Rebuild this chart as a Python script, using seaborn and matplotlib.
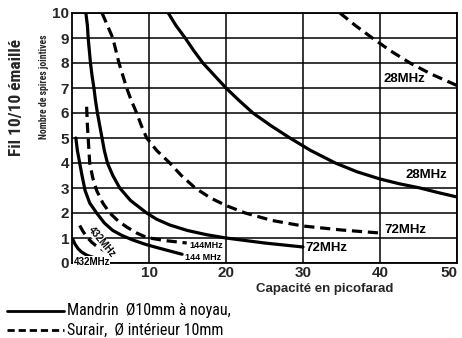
import matplotlib
matplotlib.use("Agg")
import matplotlib.pyplot as plt
import seaborn as sns
import pandas as pd
from matplotlib.lines import Line2D

# Coil charts: number of close-wound turns vs. tuning capacitance
# Solid = former with core, dashed = air-wound
sol28_c = [12.5, 13.5, 14.7, 15.8, 17.0, 18.5, 20.0, 21.7, 23.5, 25.8, 28.3,
           31.0, 34.2, 37.0, 40.0, 42.5, 45.2, 47.5, 50.0]
sol28_n = [10, 9.5, 9, 8.5, 8, 7.5, 7, 6.5, 6, 5.5, 5,
           4.5, 4, 3.65, 3.36, 3.17, 3.0, 2.82, 2.64]

sol72_c = [1.8, 2.0, 2.1, 2.25, 2.4, 2.6, 2.85, 3.05, 3.3, 3.6, 3.9, 4.2, 4.6,
           5.3, 6.2, 7.6, 9.7, 11.0, 12.7, 15.0, 17.5, 20.0, 25.0, 30.0]
sol72_n = [10, 9.5, 9, 8.5, 8, 7.5, 7, 6.5, 6, 5.5, 5, 4.5, 4,
           3.5, 3, 2.5, 2, 1.75, 1.52, 1.3, 1.13, 1.0, 0.8, 0.64]

sol144_c = [0.5, 0.7, 1.0, 1.3, 1.7, 2.3, 3.2, 4.2, 5.3, 6.5, 7.9, 9.5,
            11.0, 12.7, 14.3]
sol144_n = [5.0, 4.5, 4.0, 3.5, 2.9, 2.4, 2.0, 1.6, 1.3, 1.1, 0.92, 0.75,
            0.62, 0.48, 0.35]

sol432_c = [0.1, 0.4, 0.8, 1.2, 1.6, 2.0, 2.5, 3.0, 3.7, 4.5]
sol432_n = [0.95, 0.75, 0.57, 0.45, 0.37, 0.3, 0.25, 0.2, 0.16, 0.12]

dash28_c = [34.8, 36.8, 39.0, 41.3, 43.9, 46.7, 50.0]
dash28_n = [10, 9.5, 9, 8.5, 8.0, 7.55, 7.1]

dash72_c = [3.9, 4.6, 5.3, 5.7, 6.1, 6.6, 7.1, 7.7, 8.4, 9.0, 9.7, 11.0,
            12.7, 14.2, 16.0, 18.0, 20.0, 22.5, 26.0, 30.0, 35.0, 40.0]
dash72_n = [10, 9.5, 9, 8.5, 8, 7.5, 7, 6.5, 6, 5.5, 5, 4.5,
            4, 3.5, 3, 2.6, 2.3, 2.0, 1.7, 1.48, 1.32, 1.2]

dash144_c = [1.9, 2.0, 2.1, 2.2, 2.3, 2.7, 3.2, 4.0, 4.9, 6.0, 7.1, 8.4,
             9.7, 12.0, 14.9]
dash144_n = [6.25, 5.5, 5.0, 4.5, 4.0, 3.4, 2.9, 2.4, 2.0, 1.68, 1.44, 1.2,
             1.02, 0.9, 0.8]

dash432_c = [1.0, 1.4, 1.8, 2.2, 2.6, 3.0, 3.5, 4.0, 4.5]
dash432_n = [1.5, 1.28, 1.1, 0.95, 0.82, 0.72, 0.62, 0.53, 0.45]

x_ticks = [10, 20, 30, 40, 50]
y_ticks = list(range(0, 11))

legend_labels = ["Mandrin  Ø10mm à noyau,", "Surair,  Ø intérieur 10mm"]

sns.set_theme(style="white")
COND = ["Roboto Condensed", "Liberation Sans", "DejaVu Sans"]
WIDE = ["Liberation Sans", "DejaVu Sans"]
plt.rcParams["font.family"] = COND

fig = plt.figure(figsize=(4.62, 3.38), dpi=100)
ax = fig.add_axes([72 / 462, 1 - 263 / 338, 385 / 462, 250 / 338])

curves = [
    (sol28_c, sol28_n, "-"), (sol72_c, sol72_n, "-"),
    (sol144_c, sol144_n, "-"), (sol432_c, sol432_n, "-"),
    (dash28_c, dash28_n, "--"), (dash72_c, dash72_n, "--"),
    (dash144_c, dash144_n, "--"), (dash432_c, dash432_n, "--"),
]
for cs, ns, ls in curves:
    df = pd.DataFrame({"C": cs, "N": ns})
    sns.lineplot(data=df, x="C", y="N", ax=ax, color="black", lw=2.3,
                 sort=False, estimator=None, linestyle=ls)
    line = ax.lines[-1]
    line.set_solid_joinstyle("round")
    line.set_dash_joinstyle("round")
    if ls == "--":
        line.set_dashes((3.2, 1.8))

ax.set_xlim(0, 50)
ax.set_ylim(0, 10)
ax.set_xticks(x_ticks)
ax.set_yticks(y_ticks)
ax.grid(True, color="black", lw=1.1)
for s in ax.spines.values():
    s.set_color("black")
    s.set_linewidth(1.3)
ax.tick_params(axis="both", length=0, pad=2)
for t in ax.get_xticklabels() + ax.get_yticklabels():
    t.set_fontweight("bold")
    t.set_fontfamily(WIDE)
    t.set_fontsize(11)
ax.get_xticklabels()[-1].set_horizontalalignment("right")
ax.set_xlabel("")
ax.set_ylabel("")

lbl = dict(color="black", fontweight="bold", family=WIDE)
ax.text(40.5, 7.35, "28MHz", fontsize=9.5, va="center", ha="left", **lbl)
ax.text(43.3, 3.5, "28MHz", fontsize=9.5, va="center", ha="left",
        bbox=dict(fc="white", ec="none", pad=0.5), **lbl)
ax.text(40.6, 1.32, "72MHz", fontsize=9.5, va="center", ha="left", **lbl)
ax.text(30.3, 0.6, "72MHz", fontsize=9.5, va="center", ha="left", **lbl)
ax.text(15.2, 0.68, "144MHz", fontsize=6.5, va="center", ha="left",
        bbox=dict(fc="white", ec="none", pad=0.3), **lbl)
ax.text(14.7, 0.24, "144 MHz", fontsize=6.5, va="center", ha="left",
        bbox=dict(fc="white", ec="none", pad=0.3), **lbl)
ax.text(0.2, 0.05, "432MHz", fontsize=7, va="center", ha="left",
        bbox=dict(fc="white", ec="none", pad=0.3), **lbl)
ax.text(3.9, 0.85, "432MHz", fontsize=7, va="center", ha="center",
        rotation=-50, bbox=dict(fc="white", ec="none", pad=0.3), **lbl)

fig.text(325 / 462, 1 - 289 / 338, "Capacité en picofarad", fontsize=9.5,
         ha="center", va="center", fontweight="bold", family=WIDE)
fig.text(44 / 462, 1 - 87 / 338, "Nombre de spires jointives", fontsize=7,
         ha="center", va="center", rotation=90, fontweight="bold")
fig.text(17 / 462, 1 - 97 / 338, "Fil 10/10 émaillé", fontsize=12.5,
         ha="center", va="center", rotation=90, fontweight="bold")

# key below the chart
key_styles = ["-", (0, (2.6, 1.4))]
for i, (lab, ls) in enumerate(zip(legend_labels, key_styles)):
    y = 1 - (311 + 19 * i) / 338
    fig.add_artist(Line2D([7 / 462, 64 / 462], [y, y], color="black",
                          lw=2.0, ls=ls, transform=fig.transFigure))
    fig.text(67 / 462, y, lab, fontsize=11.5, ha="left", va="center",
             color="black")

fig.savefig("out.png", dpi=100, facecolor="white")
